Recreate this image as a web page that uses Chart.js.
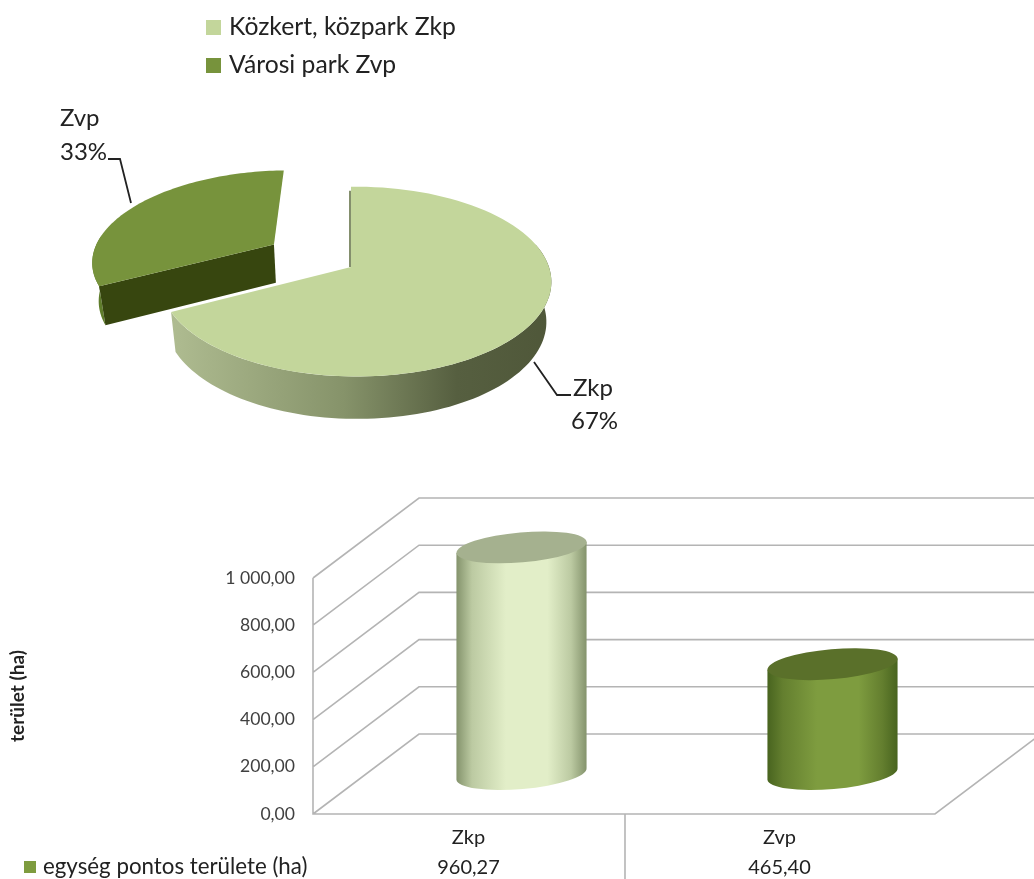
<!DOCTYPE html>
<html>
<head>
<meta charset="utf-8">
<title>Zöldterületek</title>
<script src="https://cdn.jsdelivr.net/npm/chart.js@4"></script>
<style>
body{margin:0;background:#fff;overflow:hidden}
canvas{position:absolute;left:0}
#migrafico1{top:0}
#migrafico2{top:480px}
</style>
</head>
<body>
<canvas id="migrafico1" width="1034" height="480"></canvas>
<canvas id="migrafico2" width="1034" height="399"></canvas>
<script>
const categories=["Zkp","Zvp"];
const values=[960.27,465.40];
const pieLegend=["Közkert, közpark Zkp","Városi park Zvp"];
const barLegend=["egység pontos területe (ha)"];
const axisTitle="terület (ha)";
const pieColors=["#c3d69b","#77933c"];
const barColors=["#e2eec8","#7e9c3f"];
const barShade=["#bccaa2","#647f2f"];
const barEdge=["#84936c","#48641f"];
const barTop=["#a5b18f","#5a702a"];

const fontName="Lato, Carlito, sans-serif";
const lineGrey="#b4b4b4";
const textDark="#222";

//numero con coma decimal y espacio de miles
function hu(v){
    let s=v.toFixed(2).replace(".",",");
    return s.replace(/\B(?=(\d{3})(?!\d))/g," ");
}

//proyeccion del disco con perspectiva
const tilt=0.48, persp=0.1535, perspX=0.025, depth=39;
function project(el,u,v,dz){
    const R=el.outerRadius*0.965;
    const w=1-persp*v-perspX*u;
    const h=dz||0;
    return {x:el.x+(R*u/w)*(1-h*0.00064), y:el.y+R*tilt*v/w+h/Math.sqrt(w)};
}
function slicePoint(el,a,dz){
    const d=(el.options.offset||0)/el.outerRadius;
    const mid=(el.startAngle+el.endAngle)/2;
    return project(el,d*Math.cos(mid)+Math.cos(a),d*Math.sin(mid)+Math.sin(a),dz);
}
function apexPoint(el,dz){
    const d=(el.options.offset||0)/el.outerRadius;
    const mid=(el.startAngle+el.endAngle)/2;
    return project(el,d*Math.cos(mid),d*Math.sin(mid),dz);
}
function poly(ctx,pts,fill){
    ctx.beginPath();
    pts.forEach((p,i)=>i?ctx.lineTo(p.x,p.y):ctx.moveTo(p.x,p.y));
    ctx.closePath();
    ctx.fillStyle=fill;
    ctx.fill();
}
function arcPts(el,a0,a1,dz){
    let pts=[];
    for(let i=0;i<=90;i++){
        pts.push(slicePoint(el,a0+(a1-a0)*i/90,dz));
    }
    return pts;
}
function drawWall(ctx,el,a0,a1,fill){
    poly(ctx,arcPts(el,a0,a1,0).concat(arcPts(el,a1,a0,depth)),fill);
}

const pie3d={
    id:"pie3d",
    beforeDatasetDraw(chart){
        const ctx=chart.ctx;
        const [big,small]=chart.getDatasetMeta(0).data;
        ctx.save();

        //Zvp
        drawWall(ctx,small,small.startAngle,small.startAngle+0.6,"#5f7d2b");
        const s0=slicePoint(small,small.startAngle,0), s1=slicePoint(small,small.startAngle,depth);
        poly(ctx,[apexPoint(small,0),s0,s1,apexPoint(small,depth)],"#37460f");
        poly(ctx,[apexPoint(small,0)].concat(arcPts(small,small.startAngle,small.endAngle,0)),small.options.backgroundColor);

        //Zkp
        const g=ctx.createLinearGradient(174,0,551,0);
        g.addColorStop(0,"#aebb90");
        g.addColorStop(0.45,"#86936a");
        g.addColorStop(0.75,"#565f40");
        g.addColorStop(1,"#4f5739");
        drawWall(ctx,big,-0.25,big.endAngle,g);
        poly(ctx,[apexPoint(big,0)].concat(arcPts(big,big.startAngle,big.endAngle,0)),big.options.backgroundColor);
        const t=slicePoint(big,big.startAngle,0), a=apexPoint(big,0);
        ctx.strokeStyle="#5b6a3c";
        ctx.lineWidth=1.5;
        ctx.beginPath();
        ctx.moveTo(t.x-1,t.y+4);
        ctx.lineTo(a.x-1,a.y);
        ctx.stroke();

        ctx.restore();
        return false;
    },
    afterDraw(chart){
        const ctx=chart.ctx;
        const total=values[0]+values[1];
        ctx.save();
        //lineas guia
        ctx.strokeStyle="#222";
        ctx.lineWidth=1.8;
        ctx.beginPath();
        ctx.moveTo(108,159);ctx.lineTo(120,159);ctx.lineTo(131,203);
        ctx.moveTo(534,362);ctx.lineTo(557,395);ctx.lineTo(571,395);
        ctx.stroke();
        //etiquetas
        ctx.font="24px "+fontName;
        ctx.fillStyle=textDark;
        ctx.textBaseline="middle";
        ctx.fillText(categories[1],60,118);
        ctx.fillText(Math.round(values[1]/total*100)+"%",60,152);
        ctx.fillText(categories[0],573,388);
        ctx.fillText(Math.round(values[0]/total*100)+"%",571,421);
        //leyenda
        ctx.font="24.7px "+fontName;
        pieLegend.forEach((txt,i)=>{
            const y=27+i*38;
            ctx.fillStyle=pieColors[i];
            ctx.fillRect(206,y-7,15,15);
            ctx.fillStyle=textDark;
            ctx.fillText(txt,229,y);
        });
        ctx.restore();
    }
};

const wallX=106, wallY=-80;
const bar3d={
    id:"bar3d",
    beforeDatasetsDraw(chart){
        const ctx=chart.ctx, y=chart.scales.y, a=chart.chartArea;
        ctx.save();
        ctx.strokeStyle=lineGrey;
        ctx.lineWidth=1.6;
        ctx.beginPath();
        y.ticks.forEach(t=>{
            const py=y.getPixelForValue(t.value);
            ctx.moveTo(a.left,py);
            ctx.lineTo(a.left+wallX,py+wallY);
            ctx.lineTo(chart.width,py+wallY);
        });
        ctx.moveTo(a.left,a.top);
        ctx.lineTo(a.left,a.bottom);
        ctx.lineTo(a.right,a.bottom);
        ctx.lineTo(a.right+wallX,a.bottom+wallY);
        //separador de categorias
        const mx=(a.left+a.right)/2+1;
        ctx.moveTo(mx,a.bottom);
        ctx.lineTo(mx,chart.height);
        ctx.stroke();
        ctx.restore();
    },
    beforeDatasetDraw(chart){
        const ctx=chart.ctx;
        const rot=-5*Math.PI/180, ry=15;
        chart.getDatasetMeta(0).data.forEach((el,i)=>{
            const cx=el.x+wallX/2, rx=el.width/2;
            const top=el.y+wallY/2, bot=el.base+wallY/2;
            const ex=rx*Math.cos(rot), ey=rx*Math.sin(rot);
            const g=ctx.createLinearGradient(cx-ex,0,cx+ex,0);
            g.addColorStop(0,barEdge[i]);
            g.addColorStop(0.12,barShade[i]);
            g.addColorStop(0.38,barColors[i]);
            g.addColorStop(0.7,barColors[i]);
            g.addColorStop(0.88,barShade[i]);
            g.addColorStop(1,barEdge[i]);
            ctx.save();
            ctx.fillStyle=g;
            ctx.beginPath();
            ctx.moveTo(cx-ex,top-ey);
            ctx.lineTo(cx-ex,bot-ey);
            ctx.ellipse(cx,bot,rx,ry,rot,Math.PI,0,true);
            ctx.lineTo(cx+ex,top+ey);
            ctx.closePath();
            ctx.fill();
            ctx.fillStyle=barTop[i];
            ctx.beginPath();
            ctx.ellipse(cx,top,rx,ry,rot,0,Math.PI*2);
            ctx.fill();
            ctx.restore();
        });
        return false;
    },
    afterDraw(chart){
        const ctx=chart.ctx;
        ctx.save();
        ctx.fillStyle=barColors[1];
        ctx.fillRect(24,381,12,12);
        ctx.fillStyle=textDark;
        ctx.font="22.3px "+fontName;
        ctx.textBaseline="middle";
        ctx.fillText(barLegend[0],43,387);
        ctx.restore();
    }
};

new Chart(document.getElementById("migrafico1").getContext("2d"),{
    type:"pie",
    plugins:[pie3d],
    data:{
        labels:categories,
        datasets:[{
            data:values,
            backgroundColor:pieColors,
            offset:[0,98],
            borderWidth:0
        }]
    },
    options:{
        responsive:false,
        animation:false,
        radius:200,
        layout:{padding:{top:54,right:332}},
        plugins:{legend:{display:false},tooltip:{enabled:false}}
    }
});

new Chart(document.getElementById("migrafico2").getContext("2d"),{
    type:"bar",
    plugins:[bar3d],
    data:{
        labels:categories,
        datasets:[{
            label:barLegend[0],
            data:values,
            backgroundColor:barColors,
            categoryPercentage:0.42,
            barPercentage:1
        }]
    },
    options:{
        responsive:false,
        animation:false,
        layout:{padding:{top:98,right:99}},
        plugins:{legend:{display:false},tooltip:{enabled:false}},
        scales:{
            x:{
                afterFit(s){s.height=65},
                grid:{display:false},
                border:{display:false},
                ticks:{
                    padding:1,
                    color:textDark,
                    maxRotation:0,
                    font:{family:fontName,size:20,lineHeight:1.5},
                    callback(v,i){return [categories[i],hu(values[i])]}
                }
            },
            y:{
                min:0,
                max:1000,
                afterFit(s){s.width=313},
                grid:{display:false},
                border:{display:false},
                title:{
                    display:true,
                    text:axisTitle,
                    color:"#222",
                    padding:{top:6,bottom:0},
                    font:{family:fontName,size:19,weight:"bold"}
                },
                ticks:{
                    stepSize:200,
                    padding:10,
                    color:"#404040",
                    font:{family:fontName,size:17.6},
                    callback(v){return hu(v)}
                }
            }
        }
    }
});
</script>
</body>
</html>
